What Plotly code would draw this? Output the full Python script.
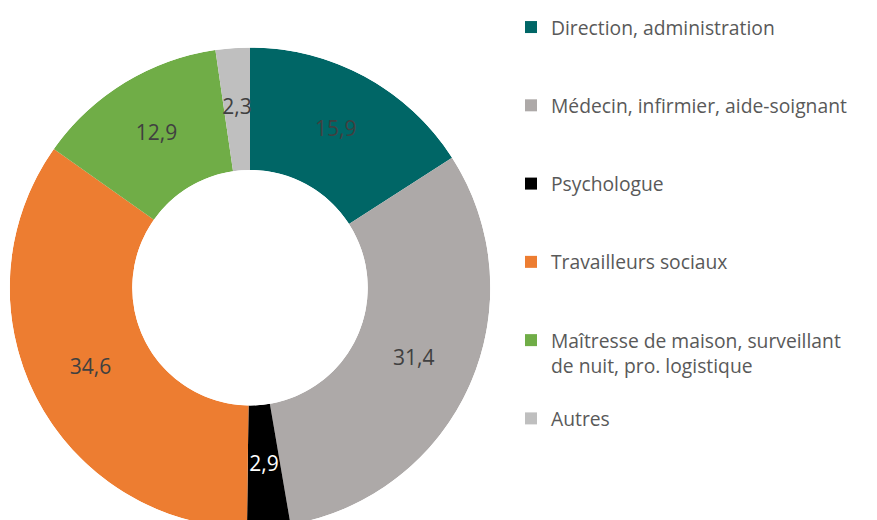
import plotly.graph_objects as go

categories = [
    "Direction, administration",
    "Médecin, infirmier, aide-soignant",
    "Psychologue",
    "Travailleurs sociaux",
    "Maîtresse de maison, surveillant<br>de nuit, pro. logistique",
    "Autres",
]
values = [15.9, 31.4, 2.9, 34.6, 12.9, 2.3]
colors = ["#006666", "#ADA9A8", "#000000", "#ED7D31", "#70AD47", "#BFBFBF"]
text_colors = ["#404040", "#404040", "#FFFFFF", "#404040", "#404040", "#404040"]

HOLE = 0.49
FONT = "Open Sans"

# blank lines pad each legend entry so items are spread down the right side
n_lines = [c.count("<br>") + 1 for c in categories]
legend_labels = [c + "<br> " * (3 - n) for c, n in zip(categories, n_lines)]
slice_text = [f"{v:.1f}".replace(".", ",") for v in values]

# slice angles, clockwise from 12 o'clock
total = sum(values)
widths = [v / total * 360 for v in values]
mid_theta = []
acc = 0
for w in widths:
    mid_theta.append(acc + w / 2)
    acc += w

# page body adds an 8px offset, domain below compensates for it
dom_x = [1 / 877, 483 / 877]
dom_y = [0, 490 / 520]

fig = go.Figure()
for name, th, w, col in zip(legend_labels, mid_theta, widths, colors):
    fig.add_trace(
        go.Barpolar(
            r=[1],
            theta=[th],
            width=[w],
            name=name,
            marker=dict(color=col, line=dict(width=0)),
            hoverinfo="name",
        )
    )
fig.add_trace(
    go.Scatterpolar(
        r=[0.5] * len(values),
        theta=mid_theta,
        mode="text",
        text=slice_text,
        textfont=dict(color=text_colors, size=21, family=FONT),
        showlegend=False,
        hoverinfo="skip",
    )
)

fig.update_layout(
    width=877,
    height=520,
    margin=dict(l=0, r=0, t=0, b=0),
    paper_bgcolor="white",
    plot_bgcolor="white",
    font=dict(family=FONT, color="#595959"),
    polar=dict(
        domain=dict(x=dom_x, y=dom_y),
        hole=HOLE,
        bargap=0,
        bgcolor="rgba(0,0,0,0)",
        radialaxis=dict(visible=False, range=[0, 1]),
        angularaxis=dict(visible=False, rotation=90, direction="clockwise"),
    ),
    legend=dict(
        x=503 / 877,
        y=1.02,
        xanchor="left",
        yanchor="top",
        valign="top",
        maxheight=520,
        font=dict(size=19.3, color="#595959", family=FONT),
        bgcolor="rgba(0,0,0,0)",
    ),
)

fig.write_html("out.html")
